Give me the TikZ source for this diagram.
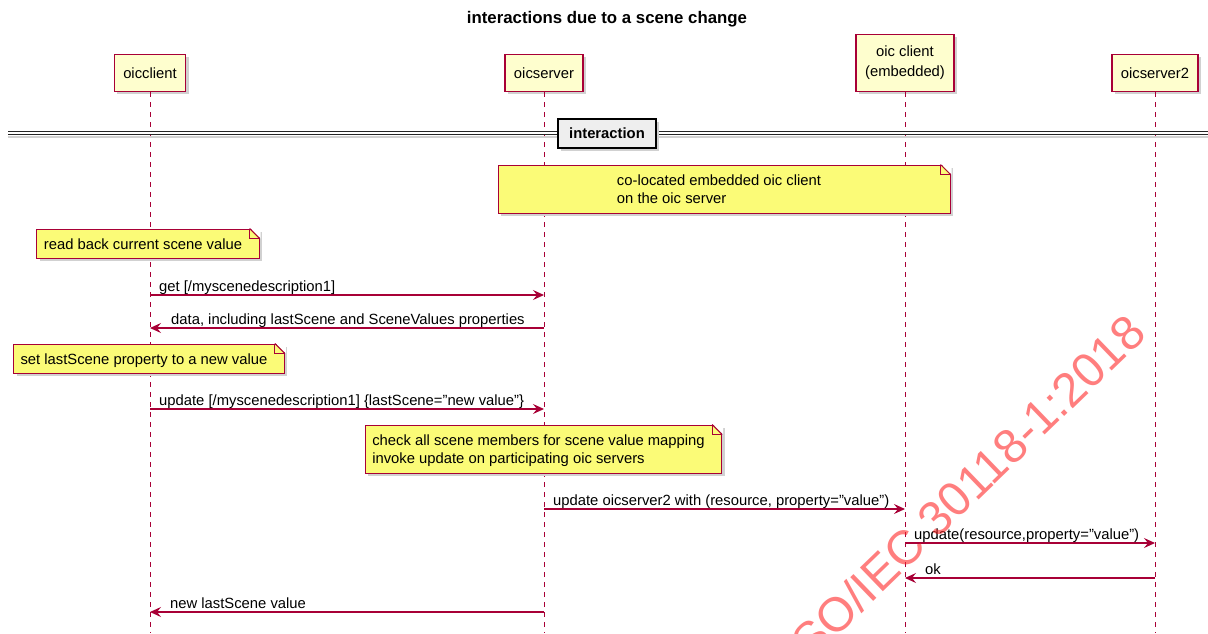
\documentclass[tikz,border=0pt]{standalone}
\usepackage{fontspec}
\setmainfont{Liberation Sans}
\usetikzlibrary{positioning}
\usetikzlibrary{arrows.meta}
\usetikzlibrary{shadows}

\definecolor{umlborder}{HTML}{A80036}
\definecolor{umlpart}{HTML}{FEFECE}
\definecolor{umlnote}{HTML}{FBFB77}
\definecolor{umldivider}{HTML}{EEEEEE}

\tikzset{
  umlshadow/.style={drop shadow={shadow xshift=3pt, shadow yshift=-3pt, fill=black!18, opacity=1}},
  participant/.style={draw=umlborder, fill=umlpart, line width=1.4pt, umlshadow, anchor=south, inner xsep=9pt, align=center, font=\fontsize{14.8}{20}\selectfont},
  lifeline/.style={draw=umlborder, line width=1pt, dash pattern=on 5pt off 5pt},
  message/.style={draw=umlborder, line width=1.1pt, -{Stealth[length=11pt, width=10pt, inset=4pt]}},
  msglabel/.style={anchor=base west, inner sep=0pt, font=\fontsize{14.8}{17}\selectfont},
  note/.style={draw=umlborder, fill=umlnote, line width=1pt, umlshadow, inner xsep=7pt, inner ysep=3pt, font=\fontsize{14.8}{18}\selectfont},
  divider/.style={draw=black!85, double=white, double distance=2pt, line width=1pt},
  dividerbox/.style={draw=black, fill=umldivider, line width=2pt, umlshadow, minimum width=98pt, minimum height=29pt, font=\bfseries\fontsize{14.8}{17}\selectfont},
  watermark/.style={text={rgb,255:red,255;green,40;blue,40}, text opacity=0.6, font=\fontsize{48}{50}\selectfont, inner sep=0pt},
}

% text of a note, with room on the right for the folded corner
\newcommand{\notetext}[1]{\begin{tabular}{@{}l@{\hspace{10pt}}}\rule{0pt}{17pt}#1\end{tabular}}
% folded top right corner of a note
\newcommand{\notefold}[1]{%
  \fill[white] ([xshift=-10pt,yshift=1pt]#1.north east) -- ([xshift=1pt,yshift=1pt]#1.north east)
    -- ([xshift=1pt,yshift=-10pt]#1.north east) -- cycle;
  \draw[umlborder, line width=1pt] ([xshift=-10pt]#1.north east) -- ([yshift=-10pt]#1.north east);
  \draw[umlborder, line width=1pt] ([xshift=-10pt]#1.north east) |- ([yshift=-10pt]#1.north east);}

\begin{document}
\begin{tikzpicture}[x=1pt, y=-1pt]
  \useasboundingbox (0,0) rectangle (1208,633);

  \node[font=\bfseries\fontsize{16.8}{20}\selectfont] (title) at (607,19) {interactions due to a scene change};

  % participants
  \node[participant, minimum height=37pt] (oicclient) at (150,92) {oicclient};
  \node[participant, minimum height=37pt] (oicserver) at (544,92) {oicserver};
  \node[participant, minimum height=57pt] (embedded) at (905,92) {oic client\\(embedded)};
  \node[participant, minimum height=37pt] (oicserver2) at (1155,92) {oicserver2};

  % lifelines
  \coordinate (lifeend) at (0,633);
  \foreach \who in {oicclient, oicserver, embedded, oicserver2}
    \draw[lifeline] (\who.south) -- (\who.south |- lifeend);

  % divider
  \coordinate (divleft) at (8,133);
  \coordinate (divright) at (1208,133);
  \draw[black!18, line width=1.5pt] ([yshift=-4pt]divleft) -- ([yshift=-4pt]divright);
  \draw[divider] (divleft) -- (divright);
  \node[dividerbox] (interaction) at (607,133.5) {interaction};

  % notes
  \node[note, minimum width=452pt, minimum height=48pt] (colocated) at (724,189)
    {\notetext{co-located embedded oic client\\on the oic server}};
  \notefold{colocated}
  \node[note, minimum height=29pt] (readback) at (148,243.5) {\notetext{read back current scene value}};
  \notefold{readback}
  \node[note, minimum height=29pt] (setscene) at (149,358.5) {\notetext{set lastScene property to a new value}};
  \notefold{setscene}
  \node[note, minimum height=48pt] (checkall) at (543.5,449)
    {\notetext{check all scene members for scene value mapping\\invoke update on participating oic servers}};
  \notefold{checkall}

  % messages
  \coordinate (get) at (0,295);
  \coordinate (data) at (0,328);
  \coordinate (update) at (0,409);
  \coordinate (forward) at (0,509);
  \coordinate (resource) at (0,543);
  \coordinate (ok) at (0,578);
  \coordinate (newvalue) at (0,612);

  \draw[message] (oicclient |- get) -- (oicserver |- get);
  \node[msglabel] (gettext) at ([xshift=9pt,yshift=4pt]oicclient |- get) {get [/myscenedescription1]};
  \draw[message] (oicserver |- data) -- (oicclient |- data);
  \node[msglabel] (datatext) at ([xshift=21pt,yshift=4pt]oicclient |- data) {data, including lastScene and SceneValues properties};
  \draw[message] (oicclient |- update) -- (oicserver |- update);
  \node[msglabel] (updatetext) at ([xshift=9pt,yshift=4pt]oicclient |- update) {update [/myscenedescription1] \{lastScene=”new value”\}};
  \draw[message] (oicserver |- forward) -- (embedded |- forward);
  \node[msglabel] (forwardtext) at ([xshift=9pt,yshift=4pt]oicserver |- forward) {update oicserver2 with (resource, property=”value”)};
  \draw[message] (embedded |- resource) -- (oicserver2 |- resource);
  \node[msglabel] (resourcetext) at ([xshift=9pt,yshift=4pt]embedded |- resource) {update(resource,property=”value”)};
  \draw[message] (oicserver2 |- ok) -- (embedded |- ok);
  \node[msglabel] (oktext) at ([xshift=20pt,yshift=4pt]embedded |- ok) {ok};
  \draw[message] (oicserver |- newvalue) -- (oicclient |- newvalue);
  \node[msglabel] (newvaluetext) at ([xshift=20pt,yshift=4pt]oicclient |- newvalue) {new lastScene value};

  \begin{scope}
    \clip (0,0) rectangle (1208,633);
    \node[watermark, rotate=44] (iso) at (963,491) {ISO/IEC 30118-1:2018};
  \end{scope}
\end{tikzpicture}
\end{document}
